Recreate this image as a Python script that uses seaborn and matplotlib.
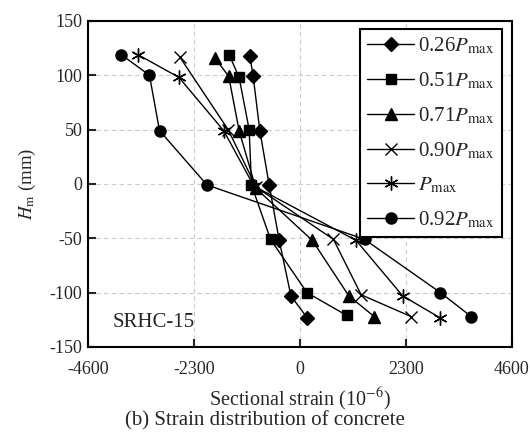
import pandas as pd
import numpy as np
import matplotlib
matplotlib.use('Agg')
import matplotlib.pyplot as plt
import seaborn as sns

# strain (10^-6) and height H_m (mm) per load level
labels = [r'0.26$\mathit{P}_{\mathrm{max}}$', r'0.51$\mathit{P}_{\mathrm{max}}$',
          r'0.71$\mathit{P}_{\mathrm{max}}$', r'0.90$\mathit{P}_{\mathrm{max}}$',
          r'$\mathit{P}_{\mathrm{max}}$', r'0.92$\mathit{P}_{\mathrm{max}}$']

strain_026 = [-1088, -1016, -871, -668, -450, -196, 152]
h_026 = [118, 99, 49, -1, -52, -103, -123]
strain_051 = [-1538, -1321, -1103, -1052, -639, 152, 1016]
h_051 = [119, 98, 50, -1, -51, -100, -121]
strain_071 = [-1850, -1546, -1321, -958, 268, 1060, 1611]
h_071 = [116, 99, 49, -4, -52, -103, -122]
strain_090 = [-2612, -1560, -950, 726, 1328, 2409]
h_090 = [117, 50, -3, -51, -102, -122]
strain_pmax = [-3520, -2627, -1655, -1000, 1219, 2228, 3033]
h_pmax = [119, 98, 49, -2, -52, -103, -123]
strain_092 = [-3882, -3266, -3048, -2017, 1400, 3048, 3715]
h_092 = [119, 100, 49, -1, -51, -100, -122]

strains = [strain_026, strain_051, strain_071, strain_090, strain_pmax, strain_092]
heights = [h_026, h_051, h_071, h_090, h_pmax, h_092]
markers = ['D', 's', '^', 'x', (6, 2, 0), 'o']
msizes = [7, 7, 8, 9, 10, 8]

sns.set_style('ticks')
plt.rcParams['font.family'] = ['Liberation Serif', 'DejaVu Serif']
plt.rcParams['mathtext.fontset'] = 'stix'
plt.rcParams['axes.unicode_minus'] = False

fig = plt.figure(figsize=(5.3, 4.34), dpi=100)
ax = fig.add_axes([0.166, 0.2005, 0.8, 0.7515])

for lab, xs, ys, m, ms in zip(labels, strains, heights, markers, msizes):
    df = pd.DataFrame({'strain': xs, 'h': ys})
    sns.lineplot(data=df, x='strain', y='h', sort=False, estimator=None,
                 color='black', lw=1, marker=m, markersize=ms,
                 markeredgecolor='black', markerfacecolor='black',
                 markeredgewidth=1.0, label=lab, ax=ax)

ax.set_xlim(-4600, 4600)
ax.set_ylim(-150, 150)
ax.set_xticks([-4600, -2300, 0, 2300, 4600])
ax.set_yticks([-150, -100, -50, 0, 50, 100, 150])
ax.grid(True, ls=(0, (4, 3)), color='#cccccc', lw=0.8)
ax.tick_params(direction='in', length=6, width=1.5, labelsize=13)
ax.tick_params(axis='x', pad=10)
ax.tick_params(axis='y', pad=4)
for s in ax.spines.values():
    s.set_linewidth(1.5)
    s.set_color('black')

ax.set_xlabel(r'Sectional strain (10$^{-6}$)', fontsize=14.5, labelpad=6)
ax.set_ylabel(r'$\mathit{H}_{\mathrm{m}}$ (mm)', fontsize=13.5, labelpad=8)
ax.text(0.057, 0.074, 'SRHC-15', transform=ax.transAxes, fontsize=15,
        va='center', ha='left')

leg = ax.legend(loc='upper right', bbox_to_anchor=(0.976, 0.976),
                borderaxespad=0, fontsize=15, handlelength=2.25,
                fancybox=False, framealpha=1, edgecolor='black',
                labelspacing=0.68, borderpad=0.35, handletextpad=0.2)
leg.get_frame().set_linewidth(1.5)

fig.text(0.5, 0.03, '(b) Strain distribution of concrete', ha='center',
         va='center', fontsize=15)

fig.savefig('out.png', dpi=100)
